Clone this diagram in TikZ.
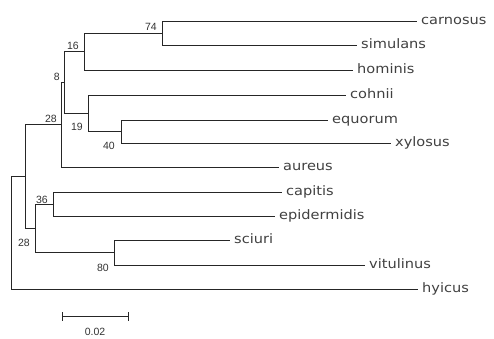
\documentclass[tikz,border=0pt]{standalone}
\usepackage{fontspec}
\setmainfont{DejaVu Sans}[FakeStretch=1.12]
\newfontfamily\bootfont{Liberation Sans}
\begin{document}
\begin{tikzpicture}[x=1pt,y=-1pt,
  branch/.style={draw=black!85,line width=0.9pt},
  leaf/.style={anchor=west,inner xsep=4pt,inner ysep=0pt,
    text height=9pt,text depth=2pt,text=black!75,
    font=\fontsize{13}{15}\selectfont},
  boot/.style={anchor=base east,inner sep=0pt,text=black!80,
    font=\bootfont\fontsize{10.5}{12}\selectfont}]
\useasboundingbox (0,0) rectangle (494,339);

% internal nodes (x = distance from root, y = middle of the clade)
\coordinate (root) at (11,232.5);
\coordinate (nL)   at (25,176.5);
\coordinate (n28a) at (61,124.5);
\coordinate (n8)   at (64,82);
\coordinate (n16)  at (84,51.5);
\coordinate (n74)  at (162,33);
\coordinate (n19)  at (88,113);
\coordinate (n40)  at (121,131.5);
\coordinate (n28b) at (35,228.5);
\coordinate (n36)  at (53,204);
\coordinate (n80)  at (114,252.5);

% tips
\node[leaf] (carnosus)    at (417,21)  {carnosus};
\node[leaf] (simulans)    at (357,45)  {simulans};
\node[leaf] (hominis)     at (353,70)  {hominis};
\node[leaf] (cohnii)      at (346,95)  {cohnii};
\node[leaf] (equorum)     at (328,120) {equorum};
\node[leaf] (xylosus)     at (391,143) {xylosus};
\node[leaf] (aureus)      at (279,167) {aureus};
\node[leaf] (capitis)     at (282,192) {capitis};
\node[leaf] (epidermidis) at (275,216) {epidermidis};
\node[leaf] (sciuri)      at (230,240) {sciuri};
\node[leaf] (vitulinus)   at (365,265) {vitulinus};
\node[leaf] (hyicus)      at (418,289) {hyicus};

% branches
\path[branch]
  (n74) |- (carnosus.west)
  (n74) |- (simulans.west)
  (n16) |- (n74)
  (n16) |- (hominis.west)
  (n40) |- (equorum.west)
  (n40) |- (xylosus.west)
  (n19) |- (cohnii.west)
  (n19) |- (n40)
  (n8)  |- (n16)
  (n8)  |- (n19)
  (n28a) |- (n8)
  (n28a) |- (aureus.west)
  (n36) |- (capitis.west)
  (n36) |- (epidermidis.west)
  (n80) |- (sciuri.west)
  (n80) |- (vitulinus.west)
  (n28b) |- (n36)
  (n28b) |- (n80)
  (nL) |- (n28a)
  (nL) |- (n28b)
  (root) |- (nL)
  (root) |- (hyicus.west);

% bootstrap values
\node[boot] (b74)  at (157,31)    {74};
\node[boot] (b16)  at (79,50)     {16};
\node[boot] (b8)   at (60,81)     {8};
\node[boot] (b28a) at (57,123)    {28};
\node[boot] (b19)  at (83,130.5)  {19};
\node[boot] (b40)  at (115,149.5) {40};
\node[boot] (b36)  at (48,203)    {36};
\node[boot] (b28b) at (30,246)    {28};
\node[boot] (b80)  at (109,271)   {80};

% scale bar
\coordinate (sbL) at (62,316);
\coordinate (sbR) at (128,316);
\path[branch] (sbL) -- (sbR)
  ([yshift=4pt]sbL) -- ([yshift=-5pt]sbL)
  ([yshift=4pt]sbR) -- ([yshift=-5pt]sbR);
\node[boot,anchor=base] (sblabel) at (95,335) {0.02};
\end{tikzpicture}
\end{document}
